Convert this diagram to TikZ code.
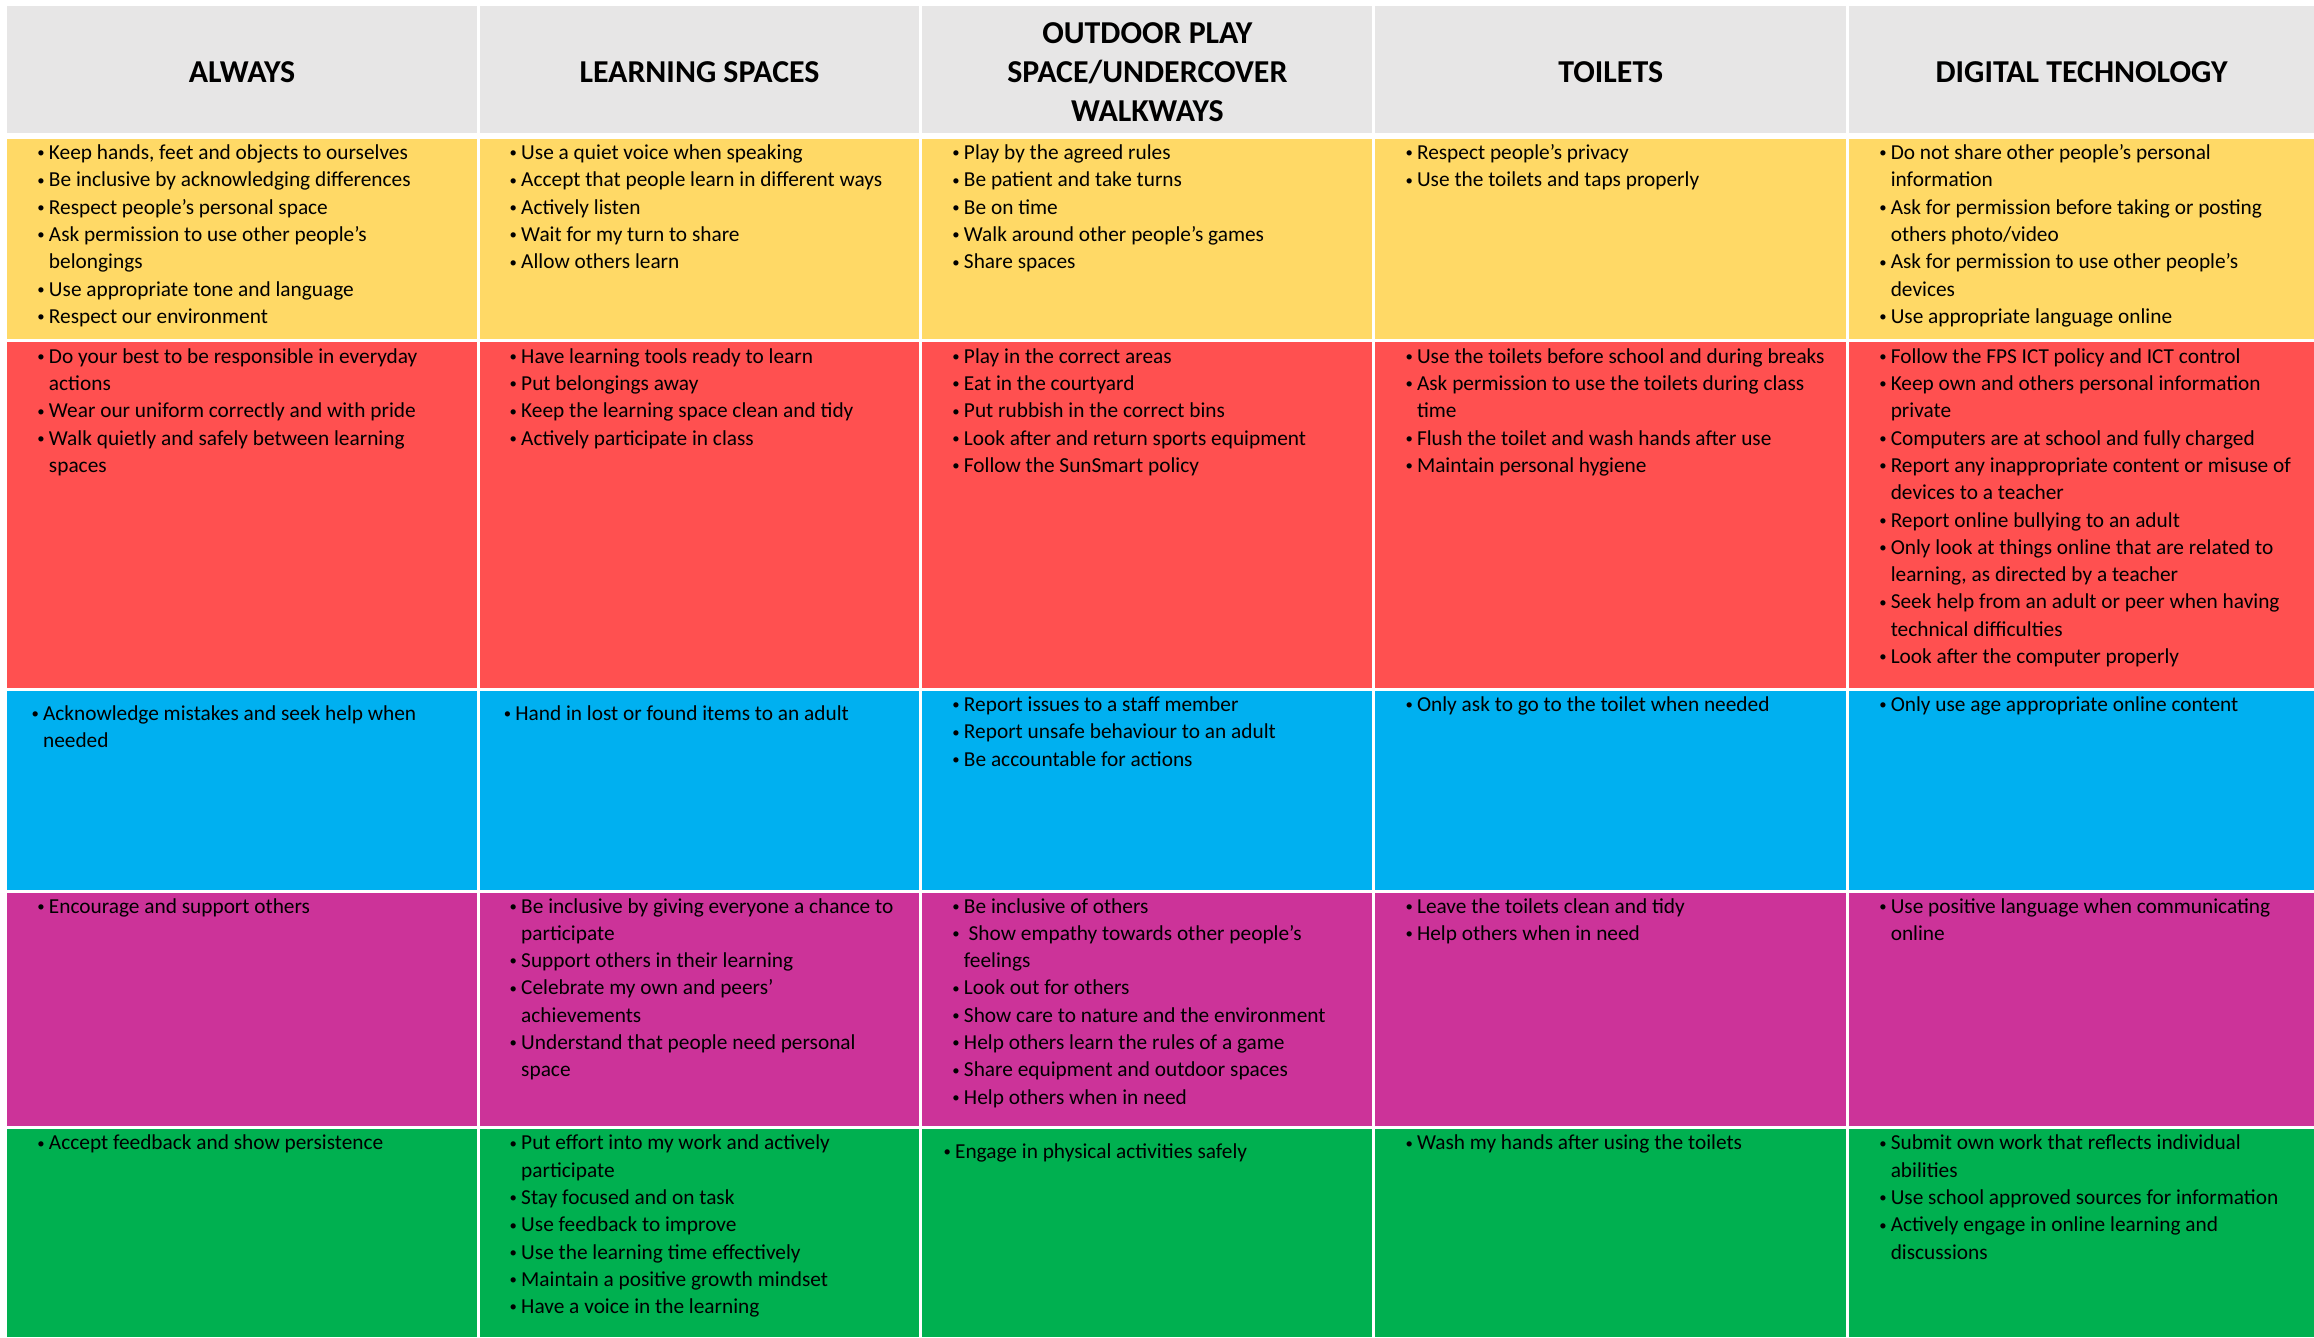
\documentclass[tikz,border=0pt]{standalone}
\usepackage{fontspec}
\setmainfont{Carlito}
\definecolor{hdr}{HTML}{E7E6E6}
\definecolor{yel}{HTML}{FFD966}
\definecolor{rd}{HTML}{FF5050}
\definecolor{blu}{HTML}{00B0F0}
\definecolor{mag}{HTML}{CC3399}
\definecolor{grn}{HTML}{00B050}
\newcommand\dotmark{\raisebox{1.2pt}{\fontsize{10}{10}\selectfont\textbullet}}
\newcommand\bl[1]{\strut\makebox[9pt][l]{\hspace{1.2pt}\dotmark}#1}
\newcommand\cl[1]{\strut\hspace*{9pt}#1}
\tikzset{
  txt/.style={anchor=north west, inner sep=0pt, align=left, font=\fontsize{14.45}{18.5}\selectfont},
  head/.style={anchor=center, inner sep=0pt, align=center, font=\fontsize{21.6}{26.5}\selectfont\bfseries}
}
\begin{document}
\begin{tikzpicture}[x=1pt,y=-1pt]
\useasboundingbox (0,0) rectangle (1568,906);
\fill[white] (0,0) rectangle (1568,906);
\foreach \l/\r in {5/323,325/623,625/930,932/1251,1253/1568}{
  \foreach \t/\b/\c in {4/90/hdr,94/230/yel,232/466/rd,468/603/blu,605/763/mag,765/906/grn}{
    \fill[\c] (\l,\t) rectangle (\r,\b);
  }
}
% headers
\node[head] (h1) at (164,49) {ALWAYS};
\node[head] (h2) at (474,49) {LEARNING SPACES};
\node[head] (h3) at (777.5,49) {OUTDOOR PLAY\\SPACE/UNDERCOVER\\WALKWAYS};
\node[head] (h4) at (1091.5,49) {TOILETS};
\node[head] (h5) at (1410.5,49) {DIGITAL TECHNOLOGY};
% yellow row
\node[txt] (y1) at (24,95) {\bl{Keep hands, feet and objects to ourselves}\\\bl{Be inclusive by acknowledging differences}\\\bl{Respect people’s personal space}\\\bl{Ask permission to use other people’s}\\\cl{belongings}\\\bl{Use appropriate tone and language}\\\bl{Respect our environment}};
\node[txt] (y2) at (344,95) {\bl{Use a quiet voice when speaking}\\\bl{Accept that people learn in different ways}\\\bl{Actively listen}\\\bl{Wait for my turn to share}\\\bl{Allow others learn}};
\node[txt] (y3) at (644,95) {\bl{Play by the agreed rules}\\\bl{Be patient and take turns}\\\bl{Be on time}\\\bl{Walk around other people’s games}\\\bl{Share spaces}};
\node[txt] (y4) at (951,95) {\bl{Respect people’s privacy}\\\bl{Use the toilets and taps properly}};
\node[txt] (y5) at (1272,95) {\bl{Do not share other people’s personal}\\\cl{information}\\\bl{Ask for permission before taking or posting}\\\cl{others photo/video}\\\bl{Ask for permission to use other people’s}\\\cl{devices}\\\bl{Use appropriate language online}};
% red row
\node[txt] (r1) at (24,233) {\bl{Do your best to be responsible in everyday}\\\cl{actions}\\\bl{Wear our uniform correctly and with pride}\\\bl{Walk quietly and safely between learning}\\\cl{spaces}};
\node[txt] (r2) at (344,233) {\bl{Have learning tools ready to learn}\\\bl{Put belongings away}\\\bl{Keep the learning space clean and tidy}\\\bl{Actively participate in class}};
\node[txt] (r3) at (644,233) {\bl{Play in the correct areas}\\\bl{Eat in the courtyard}\\\bl{Put rubbish in the correct bins}\\\bl{Look after and return sports equipment}\\\bl{Follow the SunSmart policy}};
\node[txt] (r4) at (951,233) {\bl{Use the toilets before school and during breaks}\\\bl{Ask permission to use the toilets during class}\\\cl{time}\\\bl{Flush the toilet and wash hands after use}\\\bl{Maintain personal hygiene}};
\node[txt] (r5) at (1272,233) {\bl{Follow the FPS ICT policy and ICT control}\\\bl{Keep own and others personal information}\\\cl{private}\\\bl{Computers are at school and fully charged}\\\bl{Report any inappropriate content or misuse of}\\\cl{devices to a teacher}\\\bl{Report online bullying to an adult}\\\bl{Only look at things online that are related to}\\\cl{learning, as directed by a teacher}\\\bl{Seek help from an adult or peer when having}\\\cl{technical difficulties}\\\bl{Look after the computer properly}};
% blue row
\node[txt] (b1) at (20,475) {\bl{Acknowledge mistakes and seek help when}\\\cl{needed}};
\node[txt] (b2) at (340,475) {\bl{Hand in lost or found items to an adult}};
\node[txt] (b3) at (644,469) {\bl{Report issues to a staff member}\\\bl{Report unsafe behaviour to an adult}\\\bl{Be accountable for actions}};
\node[txt] (b4) at (951,469) {\bl{Only ask to go to the toilet when needed}};
\node[txt] (b5) at (1272,469) {\bl{Only use age appropriate online content}};
% magenta row
\node[txt] (m1) at (24,605.5) {\bl{Encourage and support others}};
\node[txt] (m2) at (344,605.5) {\bl{Be inclusive by giving everyone a chance to}\\\cl{participate}\\\bl{Support others in their learning}\\\bl{Celebrate my own and peers’}\\\cl{achievements}\\\bl{Understand that people need personal}\\\cl{space}};
\node[txt] (m3) at (644,605.5) {\bl{Be inclusive of others}\\\bl{\hspace{3.2pt}Show empathy towards other people’s}\\\cl{feelings}\\\bl{Look out for others}\\\bl{Show care to nature and the environment}\\\bl{Help others learn the rules of a game}\\\bl{Share equipment and outdoor spaces}\\\bl{Help others when in need}};
\node[txt] (m4) at (951,605.5) {\bl{Leave the toilets clean and tidy}\\\bl{Help others when in need}};
\node[txt] (m5) at (1272,605.5) {\bl{Use positive language when communicating}\\\cl{online}};
% green row
\node[txt] (g1) at (24,766) {\bl{Accept feedback and show persistence}};
\node[txt] (g2) at (344,766) {\bl{Put effort into my work and actively}\\\cl{participate}\\\bl{Stay focused and on task}\\\bl{Use feedback to improve}\\\bl{Use the learning time effectively}\\\bl{Maintain a positive growth mindset}\\\bl{Have a voice in the learning}};
\node[txt] (g3) at (638,772) {\bl{Engage in physical activities safely}};
\node[txt] (g4) at (951,766) {\bl{Wash my hands after using the toilets}};
\node[txt] (g5) at (1272,766) {\bl{Submit own work that reflects individual}\\\cl{abilities}\\\bl{Use school approved sources for information}\\\bl{Actively engage in online learning and}\\\cl{discussions}};
\end{tikzpicture}
\end{document}
